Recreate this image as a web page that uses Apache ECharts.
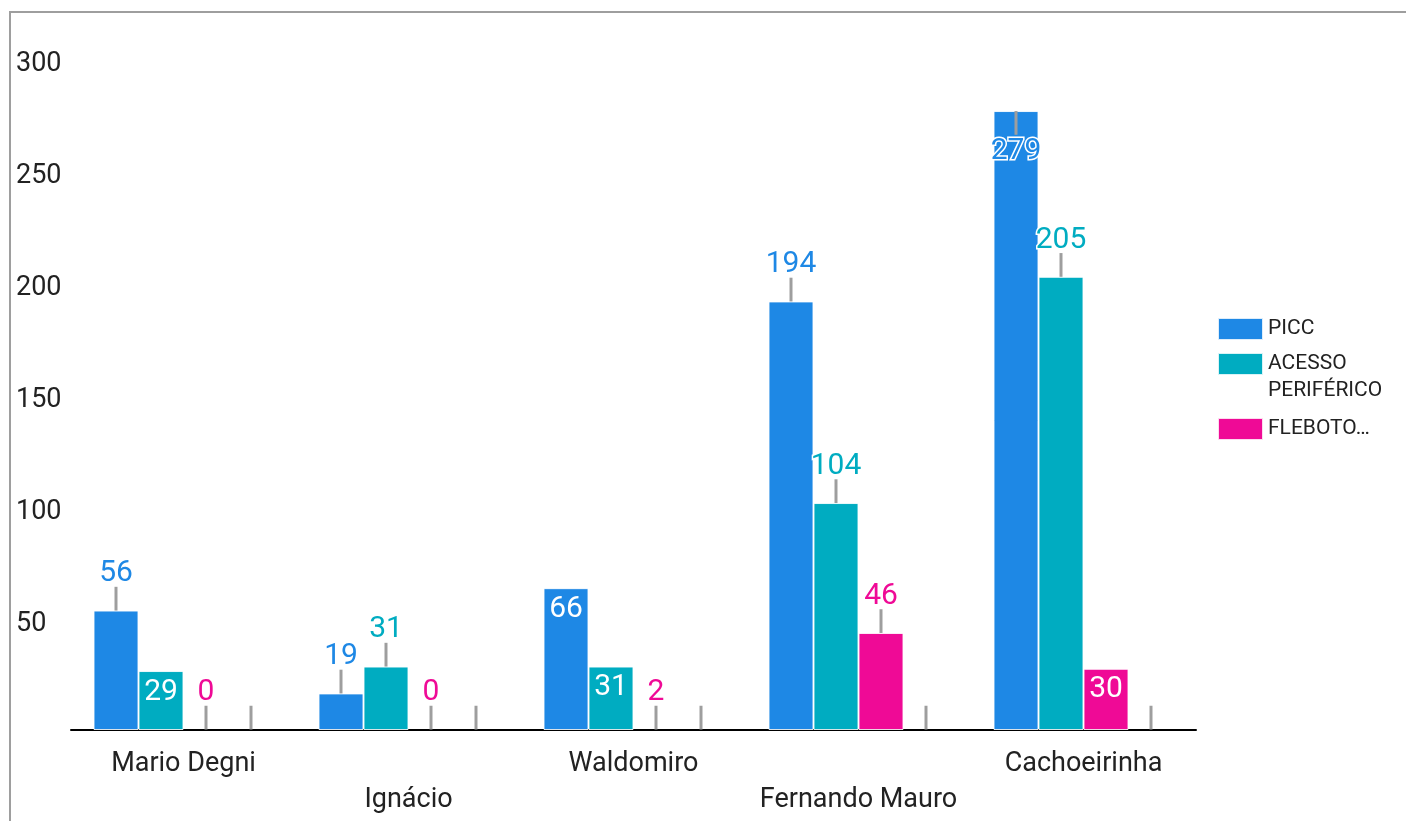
<!DOCTYPE html>
<html lang="pt">
<head>
  <meta charset="UTF-8">
  <title>Procedimentos por unidade</title>
  <script src="https://cdn.jsdelivr.net/npm/echarts@6/dist/echarts.min.js"></script>
  <style>
    html, body { margin: 0; padding: 0; background: #fff; }
    #chart { width: 1406px; height: 821px; }
  </style>
</head>
<body>
  <div id="chart"></div>
  <script>
    // dados
    var categories = ['Mario Degni', 'Ignácio', 'Waldomiro', 'Fernando Mauro', 'Cachoeirinha'];
    var picc = [56, 19, 66, 194, 279];
    var acesso = [29, 31, 31, 104, 205];
    var flebotomia = [0, 0, 2, 46, 30];
    var vazio = [0, 0, 0, 0, 0];
    var yTicks = [50, 100, 150, 200, 250, 300];

    // barras de erro (null = sem barra visível, negativo = para baixo)
    var errPicc = [10.6, 10.6, null, 10.6, -10.6];
    var errAcesso = [null, 10.6, null, 10.6, 10.6];
    var errFleb = [10.6, 10.6, 10.6, 10.6, null];
    var errVazio = [10.6, 10.6, 10.6, 10.6, 10.6];

    // onde fica o rótulo de cada barra
    var lblPicc = ['out', 'out', 'in', 'out', 'under'];
    var lblAcesso = ['in', 'out', 'in', 'out', 'out'];
    var lblFleb = ['out', 'out', 'out', 'out', 'in'];
    var lblVazio = [null, null, null, null, null];

    var colors = ['#1E88E5', '#00ACC1', '#EF0A96'];
    var font = 'Roboto';

    function barSeries(name, data, color) {
      return {
        name: name,
        type: 'bar',
        data: data,
        barGap: '0%',
        barCategoryGap: '20%',
        itemStyle: { color: color, borderColor: 'rgba(255,255,255,0.85)', borderWidth: 1 },
        emphasis: { disabled: true }
      }
    }

    // barra de erro + rótulo de valor, desenhados sobre cada barra
    function overlay(k, values, errs, modes, color) {
      return {
        type: 'custom',
        silent: true,
        z: 5,
        clip: false,
        encode: { x: 0, y: 1 },
        data: values.map(function (v, i) { return [i, v] }),
        renderItem: function (params, api) {
          var i = params.dataIndex
          var v = values[i]
          var band = api.size([1, 0])[0]
          var perUnit = api.size([0, 1])[1]
          var slot = band * 0.8 / 4
          var c = api.coord([i, v])
          var x = c[0] - band * 0.4 + slot * (k + 0.5)
          var bottom = params.coordSys.y + params.coordSys.height
          var top = Math.min(c[1], bottom)
          var children = []
          var errEnd = top
          if (errs[i] != null) {
            errEnd = top - errs[i] * perUnit
            children.push({
              type: 'line',
              shape: { x1: x, y1: top, x2: x, y2: errEnd },
              style: { stroke: '#9E9E9E', lineWidth: 3 }
            })
          }
          var mode = modes[i]
          if (mode) {
            var y, fill = color, halo = true
            if (mode === 'out') {
              y = Math.min(top, errEnd) - 13
            } else if (mode === 'in') {
              y = top + 21
              fill = '#fff'
              halo = false
            } else {
              y = Math.max(top, errEnd) + 16.5
            }
            children.push({
              type: 'text',
              z2: 10,
              style: {
                text: String(v),
                x: x,
                y: y,
                fill: fill,
                stroke: halo ? '#fff' : null,
                lineWidth: halo ? 3 : 0,
                strokeFirst: true,
                font: '30px ' + font,
                align: 'center',
                verticalAlign: 'middle'
              }
            })
          }
          return { type: 'group', children: children }
        }
      }
    }

    var legendBase = {
      orient: 'vertical',
      left: 1212,
      icon: 'rect',
      itemWidth: 45,
      itemHeight: 22,
      selectedMode: false,
      textStyle: { fontFamily: font, fontSize: 21, color: '#222', lineHeight: 22 },
      formatter: function (name) {
        // linha vazia em cima para alinhar a primeira linha com o quadrado
        if (name === 'ACESSO PERIFÉRICO') return ' \nACESSO\nPERIFÉRICO'
        if (name === 'FLEBOTOMIA') return 'FLEBOTO…'
        return name
      }
    }

    var chart = echarts.init(document.getElementById('chart'))
    chart.setOption({
      animation: false,
      backgroundColor: '#fff',
      graphic: [{
        type: 'rect',
        shape: { x: 10, y: 12, width: 1500, height: 900 },
        style: { fill: 'none', stroke: '#9E9E9E', lineWidth: 2 },
        silent: true
      }],
      legend: [
        Object.assign({}, legendBase, { data: ['PICC'], top: 312 }),
        Object.assign({}, legendBase, {
          data: ['ACESSO PERIFÉRICO'],
          top: 318.5,
          textStyle: { fontFamily: font, fontSize: 21, color: '#222', lineHeight: 27 }
        }),
        Object.assign({}, legendBase, { data: ['FLEBOTOMIA'], top: 412 })
      ],
      grid: { left: 71, right: 210, top: 64, bottom: 91.5, outerBoundsMode: 'none' },
      xAxis: {
        type: 'category',
        data: categories,
        axisTick: { show: false },
        axisLine: { lineStyle: { color: '#000', width: 2 } },
        axisLabel: {
          interval: 0,
          fontFamily: font,
          fontSize: 27,
          lineHeight: 36,
          margin: 17,
          color: '#222',
          formatter: function (v, i) { return i % 2 ? '\n' + v : v }
        }
      },
      yAxis: {
        type: 'value',
        min: 2.9,
        max: 300,
        axisLine: { show: false },
        axisTick: { show: false },
        splitLine: { show: false },
        axisLabel: {
          customValues: yTicks,
          align: 'left',
          margin: 55,
          fontFamily: font,
          fontSize: 27,
          color: '#222'
        }
      },
      series: [
        barSeries('PICC', picc, colors[0]),
        barSeries('ACESSO PERIFÉRICO', acesso, colors[1]),
        barSeries('FLEBOTOMIA', flebotomia, colors[2]),
        barSeries('', vazio, 'transparent'),
        overlay(0, picc, errPicc, lblPicc, colors[0]),
        overlay(1, acesso, errAcesso, lblAcesso, colors[1]),
        overlay(2, flebotomia, errFleb, lblFleb, colors[2]),
        overlay(3, vazio, errVazio, lblVazio, '#000')
      ]
    })
  </script>
</body>
</html>
